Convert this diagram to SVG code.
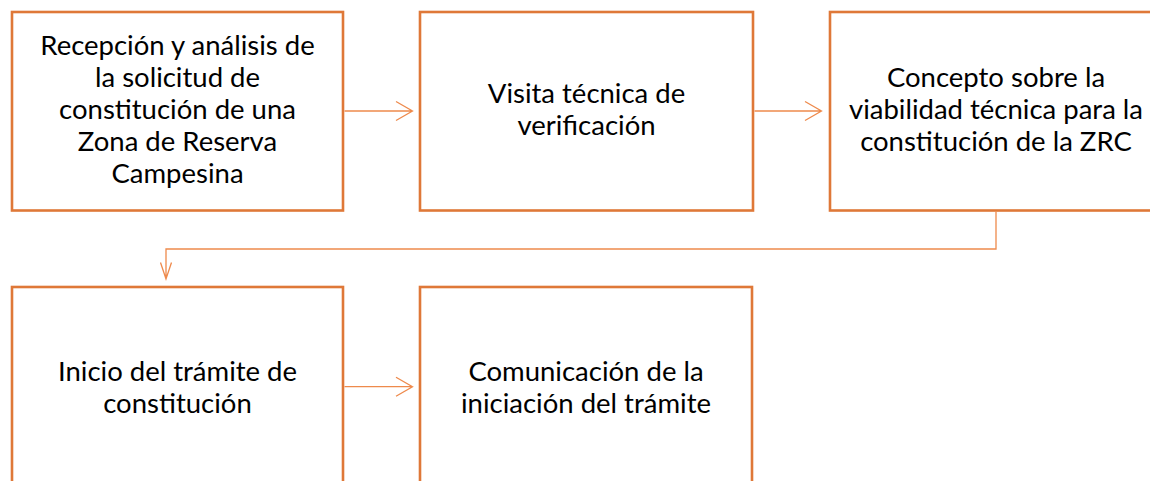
<svg xmlns="http://www.w3.org/2000/svg" width="1150" height="481" viewBox="0 0 1150 481">
<style>
.box{fill:#ffffff;stroke:#DF7838;stroke-width:2.6}
.lbl{font-family:Lato,"Liberation Sans",sans-serif;font-size:27.5px;fill:#000000;text-anchor:middle}
.conn{fill:none;stroke:#EE8A4C;stroke-width:1.3}
</style>
<rect width="1150" height="481" fill="#ffffff"/>
<g id="node-recepcion">
<rect class="box" x="12" y="12" width="331" height="198.5"/>
<text class="lbl"><tspan x="177.5" y="55">Recepción y análisis de</tspan><tspan x="177.5" y="87">la solicitud de</tspan><tspan x="177.5" y="119">constitución de una</tspan><tspan x="177.5" y="151">Zona de Reserva</tspan><tspan x="177.5" y="183">Campesina</tspan></text>
</g>
<g id="node-visita">
<rect class="box" x="420" y="12" width="333" height="198.5"/>
<text class="lbl"><tspan x="586.5" y="103">Visita técnica de</tspan><tspan x="586.5" y="135">verificación</tspan></text>
</g>
<g id="node-concepto">
<rect class="box" x="830" y="12" width="332" height="198.5"/>
<text class="lbl"><tspan x="996" y="87">Concepto sobre la</tspan><tspan x="996" y="119">viabilidad técnica para la</tspan><tspan x="996" y="151">constitución de la ZRC</tspan></text>
</g>
<g id="node-inicio">
<rect class="box" x="12" y="287" width="331" height="200"/>
<text class="lbl"><tspan x="177.5" y="380.5">Inicio del trámite de</tspan><tspan x="177.5" y="412.5">constitución</tspan></text>
</g>
<g id="node-comunicacion">
<rect class="box" x="420" y="287" width="332" height="200"/>
<text class="lbl"><tspan x="586" y="380.5">Comunicación de la</tspan><tspan x="586" y="412.5">iniciación del trámite</tspan></text>
</g>
<g id="connectors">
<path class="conn" d="M344.5 111 H412.5 M396 101.5 L412.5 111 L396 120.5"/>
<path class="conn" d="M754.5 111 H821.5 M805 101.5 L821.5 111 L805 120.5"/>
<path class="conn" d="M996 211.5 V249 H166 V279 M160.5 262.5 L166 279 L171.5 262.5"/>
<path class="conn" d="M344.5 386.7 H412.5 M396 377.2 L412.5 386.7 L396 396.2"/>
</g>
</svg>
